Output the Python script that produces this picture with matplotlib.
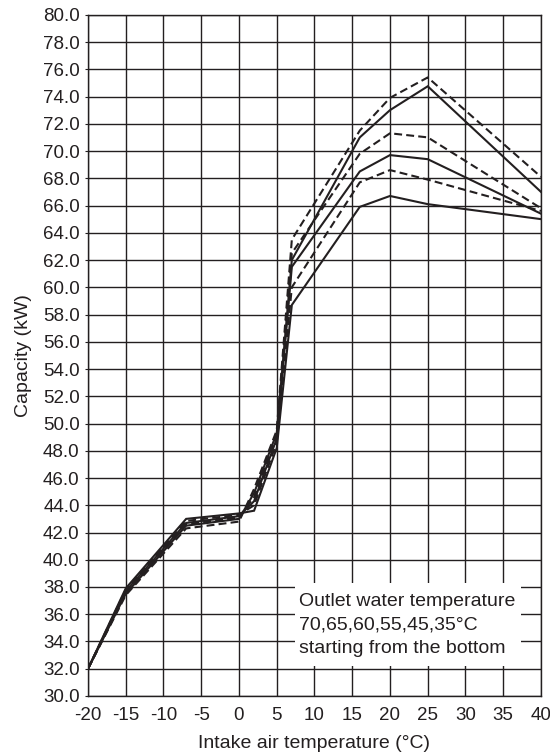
import matplotlib
matplotlib.use("Agg")
import matplotlib.pyplot as plt
from matplotlib.patches import Rectangle
from matplotlib.ticker import MultipleLocator, FormatStrFormatter

plt.rcParams['font.family'] = ['Liberation Sans', 'DejaVu Sans']
plt.rcParams['axes.unicode_minus'] = False

# Intake air temperature points (°C)
x_temps = [-20, -15, -7, 0, 2, 5, 7, 16, 20, 25, 40]

# Capacity (kW) per outlet water temperature
cap_70 = [32.0, 37.9, 43.0, 43.4, 43.6, 48.2, 58.7, 65.9, 66.7, 66.1, 65.0]
cap_65 = [32.0, 37.8, 42.85, 43.3, 44.0, 48.6, 60.0, 67.7, 68.6, 67.9, 65.6]
cap_60 = [32.0, 37.7, 42.7, 43.2, 44.3, 48.9, 61.5, 68.5, 69.7, 69.4, 65.4]
cap_55 = [32.0, 37.6, 42.6, 43.1, 44.6, 49.1, 62.5, 69.8, 71.3, 71.0, 65.8]
cap_45 = [32.0, 37.5, 42.5, 43.0, 44.9, 49.3, 62.0, 71.0, 73.0, 74.75, 67.0]
cap_35 = [32.0, 37.4, 42.3, 42.8, 45.2, 49.5, 63.5, 71.5, 73.9, 75.4, 68.1]

series = [
    ("70", cap_70, "solid"),
    ("65", cap_65, "dashed"),
    ("60", cap_60, "solid"),
    ("55", cap_55, "dashed"),
    ("45", cap_45, "solid"),
    ("35", cap_35, "dashed"),
]

note_lines = ["Outlet water temperature", "70,65,60,55,45,35°C", "starting from the bottom"]

ink = '#231f20'

fig = plt.figure(figsize=(5.5, 7.53), dpi=100)
ax = fig.add_axes([0.16, 0.0757, 0.8236, 0.9047])

for name, vals, style in series:
    ls = '-' if style == 'solid' else (0, (3.8, 2.0))
    ax.plot(x_temps, vals, color=ink, lw=1.5, linestyle=ls, zorder=3,
            solid_joinstyle='miter')

ax.set_xlim(-20, 40)
ax.set_ylim(30, 80)
ax.xaxis.set_major_locator(MultipleLocator(5))
ax.yaxis.set_major_locator(MultipleLocator(2))
ax.yaxis.set_major_formatter(FormatStrFormatter('%.1f'))
ax.grid(True, color=ink, lw=1.0)
ax.set_axisbelow(True)
for s in ax.spines.values():
    s.set_color(ink)
    s.set_linewidth(1.0)

ax.tick_params(axis='x', length=0, pad=8, labelsize=13.5, colors=ink)
ax.tick_params(axis='y', length=2, pad=4, labelsize=13.5, colors=ink)

ax.add_patch(Rectangle((7.4, 32.2), 29.9, 6.1, facecolor='white',
                       edgecolor='none', zorder=2))
for i, t in enumerate(note_lines):
    ax.text(7.9, 36.95 - i * 1.75, t, fontsize=14, color=ink,
            ha='left', va='center', zorder=4)

ax.set_xlabel('Intake air temperature (°C)', fontsize=14, color=ink, labelpad=8)
ax.set_ylabel('Capacity (kW)', fontsize=14, color=ink, labelpad=8)

fig.savefig('out.png', dpi=100)
